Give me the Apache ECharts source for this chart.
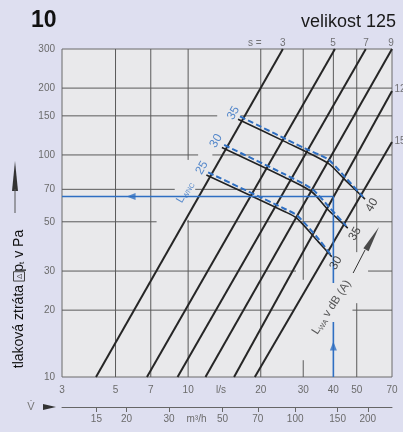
<!DOCTYPE html>
<html>
<head>
<meta charset="utf-8">
<script src="https://cdn.jsdelivr.net/npm/echarts@6/dist/echarts.min.js"></script>
<style>
html, body { margin: 0; padding: 0; background: #dedff0; }
#chart { width: 403px; height: 432px; }
</style>
</head>
<body>
<div id="chart"></div>
<script>
// axis ticks
const flowTicks = [3, 5, 7, 10, 20, 30, 40, 50, 70]
const flowUnitAt = 13.7
const pressureTicks = [10, 20, 30, 50, 70, 100, 150, 200, 300]
const flowM3hTicks = [15, 20, 30, 50, 70, 100, 150, 200]
const m3hUnitAt = 39

// grid segments: [value, from, to]
const vGrid = [[5, 10, 300], [7, 10, 300], [10, 10, 51], [10, 95, 300], [20, 10, 300],
  [30, 10, 11.9], [30, 27.4, 300], [40, 65, 300], [50, 10, 21.5], [50, 36.5, 300]]
const hGrid = [[200, 3, 70], [150, 3, 13.2], [150, 16.5, 70], [100, 3, 11], [100, 12.6, 70],
  [70, 3, 8.8], [70, 10.7, 70], [50, 3, 7.4], [50, 9.9, 70], [30, 3, 28], [30, 55.7, 70],
  [20, 3, 27.2], [20, 48, 70]]

// damper setting lines s
const sValues = ['3', '5', '7', '9', '12', '15']
const sLineLow = [[4.15, 10], [6.75, 10], [9.04, 10], [11.8, 10], [15.5, 10], [18.9, 10]]
const sLineHigh = [[24.7, 300], [40.6, 300], [54.5, 300], [70, 300], [70, 194], [70, 114.5]]
const sLabelAt = [[24.7, 320], [39.9, 320], [54.6, 320], [69.4, 320], [75.6, 198], [75.6, 115.6]]

// sound power curves L_WA
const lwaStart = ['25', '30', '35']
const lwaEnd = ['30', '35', '40']
const lwaSolid = [
  [[11.9, 81.3], [25.2, 55.5], [28.2, 51.9], [34.6, 40.7], [39.4, 34.8]],
  [[13.8, 108.1], [25.2, 79.2], [32.6, 68.1], [38.1, 56.5], [45.9, 46.8]],
  [[16.1, 144.8], [25.2, 114.8], [38.1, 91.7], [44.7, 77.2], [54.1, 63.2]]
]
const lwaDashed = [
  [[12.1, 83.4], [25.2, 57.1], [28.3, 53.4], [34.9, 41.6], [39.1, 35.4]],
  [[14.1, 110.9], [25.2, 81.7], [32.6, 70.3], [38.7, 57.7], [45.2, 47.9]],
  [[16.4, 149.1], [30.5, 107], [38.1, 95.4], [44.7, 79.6], [53.1, 64.7]]
]
const lwaStartAt = [[11.4, 87.4], [13.05, 115.6], [15.4, 154.5]]
const lwaEndAt = [[41, 32.6], [49.2, 44.1], [57.8, 59.5]]

// reading example
const readFlow = 40
const readPressure = 65
const readVertical = [[[40, 65], [40, 26.5]], [[40, 17.7], [40, 10]]]

const FONT = '"Liberation Sans", Arial, sans-serif'
const BLUE = '#2f6fc2'
const GRID = '#5a5a5a'

function seg(data, lineStyle, z) {
  return {
    type: 'line', data: data, symbol: 'none', silent: true, z: z,
    lineStyle: lineStyle
  }
}

const series = []
vGrid.forEach(g => series.push(seg([[g[0], g[1]], [g[0], g[2]]], { color: GRID, width: 1 }, 1)))
hGrid.forEach(g => series.push(seg([[g[1], g[0]], [g[2], g[0]]], { color: GRID, width: 1 }, 1)))
sLineLow.forEach((p, i) => series.push(seg([p, sLineHigh[i]], { color: '#262626', width: 2 }, 2)))

lwaSolid.forEach(d => series.push(Object.assign(seg(d, { color: '#222', width: 1.6 }, 3), { smooth: 0.25 })))
lwaDashed.forEach(d => series.push(Object.assign(seg(d, { color: BLUE, width: 2, type: [6, 3] }, 4), { smooth: 0.25 })))

series.push(seg([[3, readPressure], [readFlow, readPressure]], { color: BLUE, width: 1.6 }, 4))
readVertical.forEach(d => series.push(seg(d, { color: BLUE, width: 1.6 }, 4)))

function labels(points, names, label, z) {
  return {
    type: 'scatter', clip: false, silent: true, z: z || 6,
    symbolSize: 1, itemStyle: { color: 'rgba(0,0,0,0)' },
    data: points.map((p, i) => ({ value: p, name: names[i] })),
    label: Object.assign({ show: true, position: 'inside', formatter: '{b}', fontFamily: FONT }, label)
  }
}

series.push(labels(sLabelAt.concat([[18.9, 320]]), sValues.concat(['s =']), { color: '#555', fontSize: 10 }))
series.push(labels(lwaStartAt, lwaStart, { color: BLUE, fontSize: 12, rotate: 60 }))
series.push(labels(lwaEndAt, lwaEnd, { color: '#222', fontSize: 12, rotate: 60 }))
series.push(labels([[9.7, 68.1]], ['L_WNC'], {
  rotate: 60, formatter: '{l|L}{s|WNC}',
  rich: { l: { color: BLUE, fontSize: 11, fontFamily: FONT }, s: { color: BLUE, fontSize: 7, fontFamily: FONT, padding: [6, 0, 0, 0] } }
}))
series.push(labels([[39.3, 20.6]], ['L_WA'], {
  rotate: 57, formatter: '{l|L}{s|WA}{l| v dB (A)}',
  rich: { l: { color: '#333', fontSize: 11.5, fontFamily: FONT }, s: { color: '#333', fontSize: 7, fontFamily: FONT, padding: [6, 0, 0, 0] } }
}))

// arrows on the reading lines
series.push({
  type: 'scatter', silent: true, z: 5, symbol: 'triangle', symbolSize: [7, 9],
  itemStyle: { color: BLUE },
  data: [{ value: [5.8, readPressure], symbolRotate: 90 }, { value: [readFlow, 13.8], symbolRotate: 0 }]
})
// L_WA direction arrow
series.push(seg([[48.3, 29.4], [54.1, 37.3]], { color: '#333', width: 1 }, 5))
series.push({
  type: 'scatter', silent: true, z: 5, symbol: 'path://M5,0 L10,30 L0,30 Z', symbolKeepAspect: false,
  symbolSize: [6, 26], symbolRotate: -30, itemStyle: { color: '#222' },
  data: [[58.1, 42.1]]
})

function flowLabel(v) {
  if (Math.abs(v - flowUnitAt) < 0.05) return 'l/s'
  return String(Math.round(v))
}
function m3hLabel(v) {
  if (Math.abs(v - m3hUnitAt) < 0.05) return 'm³/h'
  return String(Math.round(v))
}

const option = {
  animation: false,
  backgroundColor: '#dedff0',
  textStyle: { fontFamily: FONT },
  grid: {
    left: 62, right: 11, top: 49, bottom: 55,
    show: true, backgroundColor: '#e9e9eb', borderColor: '#6a6a6a', borderWidth: 1
  },
  xAxis: [
    {
      type: 'log', logBase: 10, min: 3, max: 70,
      axisLine: { show: false }, axisTick: { show: false }, splitLine: { show: false },
      axisLabel: { customValues: flowTicks.concat([flowUnitAt]), formatter: flowLabel, color: '#6b6b6b', fontSize: 10, margin: 8 }
    },
    {
      type: 'log', logBase: 10, min: 10.8, max: 252, position: 'bottom', offset: 30,
      axisLine: { show: true, lineStyle: { color: '#666', width: 1 } },
      axisTick: { show: true, customValues: flowM3hTicks, length: 5, lineStyle: { color: '#666' } },
      splitLine: { show: false },
      axisLabel: { customValues: flowM3hTicks.concat([m3hUnitAt]), formatter: m3hLabel, color: '#6b6b6b', fontSize: 10, margin: 7 }
    }
  ],
  yAxis: {
    type: 'log', logBase: 10, min: 10, max: 300,
    axisLine: { show: false }, axisTick: { show: false }, splitLine: { show: false },
    axisLabel: { customValues: pressureTicks, color: '#6b6b6b', fontSize: 10, margin: 7 }
  },
  graphic: [
    { type: 'text', left: 31, top: 9, style: { text: '10', font: 'bold 23px ' + FONT, fill: '#111' } },
    { type: 'text', right: 7, top: 13, style: { text: 'velikost 125', font: '18px ' + FONT, fill: '#1a1a1a' } },
    {
      type: 'text', x: 19, y: 299, rotation: Math.PI / 2,
      style: {
        text: 'tlaková ztráta {box|Δ}p{sub|t} v Pa', font: '14px ' + FONT, fill: '#111',
        align: 'center', verticalAlign: 'middle',
        rich: {
          box: { fontSize: 8, fill: '#555', borderColor: '#444', borderWidth: 1, padding: [2, 2, 1, 2] },
          sub: { fontSize: 8, fill: '#111', padding: [6, 0, 0, 0] }
        }
      }
    },
    { type: 'polygon', shape: { points: [[15, 161], [12, 191], [18, 191]] }, style: { fill: '#333' } },
    { type: 'line', shape: { x1: 15, y1: 189, x2: 15, y2: 213 }, style: { stroke: '#555', lineWidth: 1 } },
    { type: 'text', x: 31, y: 407, style: { text: 'V̇', font: '11px ' + FONT, fill: '#777', align: 'center', verticalAlign: 'middle' } },
    { type: 'polygon', shape: { points: [[43, 404], [43, 410], [56, 407]] }, style: { fill: '#333' } }
  ],
  series: series
}

const chart = echarts.init(document.getElementById('chart'))
chart.setOption(option)
</script>
</body>
</html>
